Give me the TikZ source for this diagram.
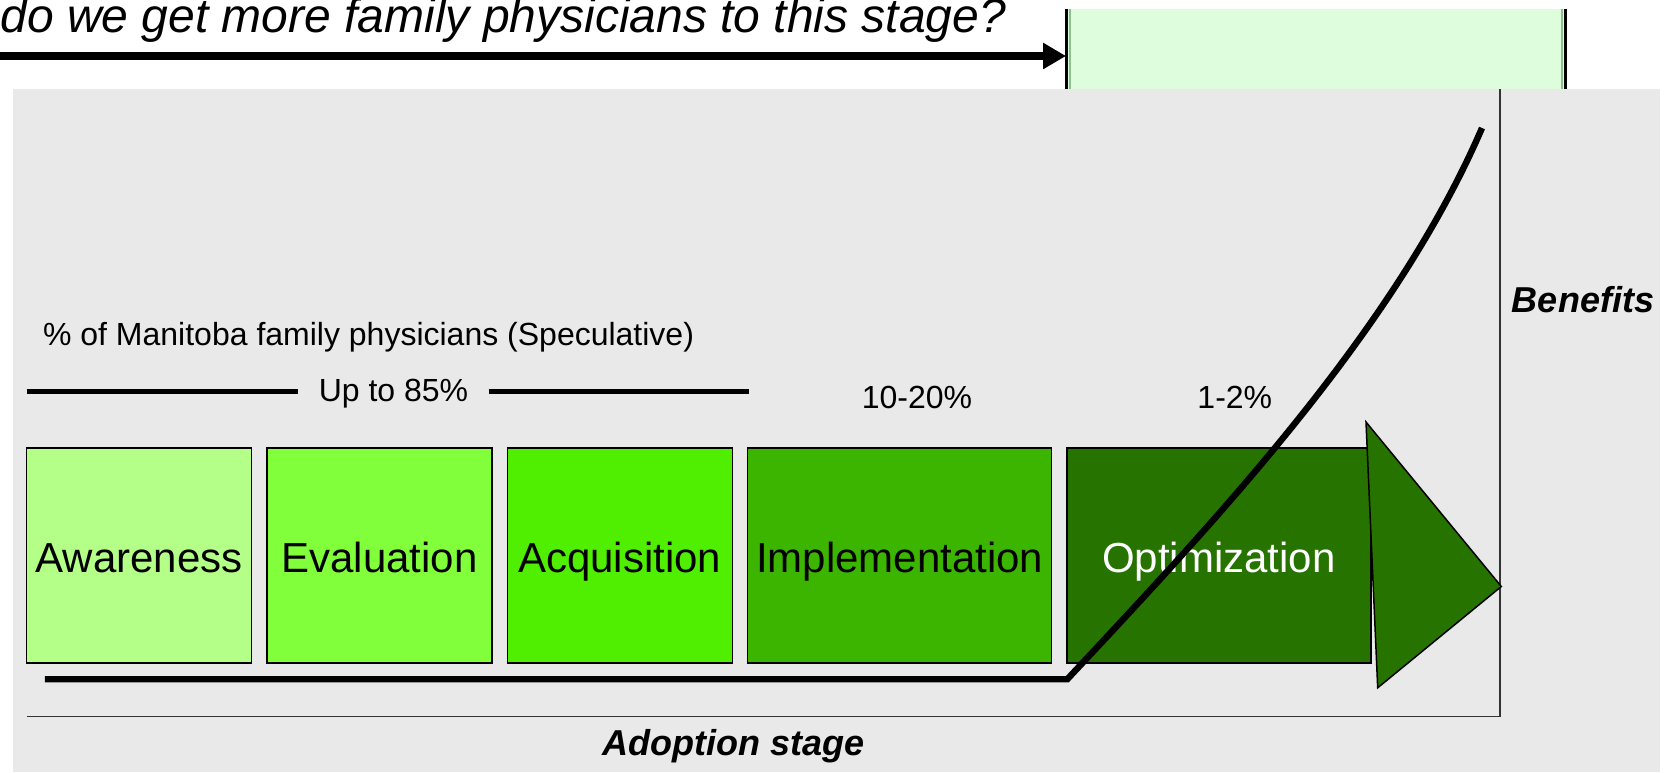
\documentclass[tikz,border=0pt]{standalone}
\usepackage{fontspec}
\setmainfont{Liberation Sans}
\usetikzlibrary{positioning,arrows.meta}

\definecolor{panelgray}{HTML}{E9E9E9}
\definecolor{goalgreen}{HTML}{DDFDDD}
\definecolor{goaledge}{HTML}{8FBF8F}
\definecolor{awareC}{HTML}{B3FF88}
\definecolor{evalC}{HTML}{80FF3A}
\definecolor{acquC}{HTML}{50EE00}
\definecolor{implC}{HTML}{3BB500}
\definecolor{optiC}{HTML}{277300}
\definecolor{axisC}{HTML}{333333}

\begin{document}
\begin{tikzpicture}[x=0.5pt,y=-0.5pt,node distance=6.9pt,
    stagebox/.style={draw=black,line width=0.75pt,inner sep=0pt,minimum height=107.7pt,
      text height=17pt,text depth=0pt,font=\fontsize{21}{25}\selectfont},
    narrow/.style={stagebox,minimum width=112.5pt},
    wide/.style={stagebox,minimum width=152pt},
    pct/.style={font=\fontsize{16}{19}\selectfont},
    axislabel/.style={font=\fontsize{18}{21}\selectfont\bfseries\itshape}]
  \useasboundingbox (0,0) rectangle (1672,772);

  % question and target stage
  \node[fill=goalgreen,inner sep=0pt,minimum width=249.5pt,minimum height=50pt,anchor=north west]
    (goal) at (1066,8.5) {};
  \draw[goaledge,line width=1pt] ([xshift=2pt]goal.north west) -- ([xshift=2pt]goal.south west)
                                 ([xshift=-2pt]goal.north east) -- ([xshift=-2pt]goal.south east);
  \draw[line width=1.5pt] (goal.north west) -- (goal.south west)
                          (goal.north east) -- (goal.south east);
  \node[anchor=base west,inner sep=0pt,font=\fontsize{24}{28}\selectfont\itshape]
    (question) at (0,32) {do we get more family physicians to this stage?};
  \coordinate (qstart) at (0,56);
  \draw[line width=4pt,-{Triangle[length=11.5pt,width=12.5pt]}] (qstart) -- (qstart -| goal.west);

  % panel
  \fill[panelgray] (12.8,88.5) rectangle (1660,772);

  % axes
  \coordinate (origin) at (1500,716.5);
  \coordinate (xend) at (26.7,716.5);
  \coordinate (yend) at (1500,88.5);
  \draw[axisC,line width=0.8pt] (xend) -- (origin) -- (yend);
  \node[axislabel] (benefits) at (1583,299.6) {Benefits};
  \node[axislabel] (adoption) at (733.6,746.4) {Adoption stage};

  % percentages
  \node[pct,anchor=west,inner sep=0pt] (share) at (42.7,337) {\% of Manitoba family physicians (Speculative)};
  \node[pct,inner xsep=10pt,inner ysep=0pt] (upto) at (393.5,393.5) {Up to 85\%};
  \coordinate (upl) at (26.7,391.3);
  \coordinate (upr) at (748.5,391.3);
  \draw[line width=2.5pt] (upl) -- (upl -| upto.west)
                          (upr -| upto.east) -- (upr);
  \node[pct] (tentwenty) at (917,397.7) {10-20\%};
  \node[pct] (onetwo) at (1234.8,397.7) {1-2\%};

  % stages
  \node[narrow,fill=awareC] (aware) at (139.2,555.5) {Awareness};
  \node[narrow,fill=evalC,right=of aware] (eval) {Evaluation};
  \node[narrow,fill=acquC,right=of eval] (acqu) {Acquisition};
  \node[wide,fill=implC,right=of acqu] (impl) {Implementation};
  \node[wide,fill=optiC,text=white,right=of impl] (opti) {Optimization};
  \filldraw[fill=optiC,draw=black,line width=0.75pt] (1366,422) -- (1501.3,586.5) -- (1377.7,687.8) -- cycle;

  % benefits curve
  \coordinate (flat) at (44.8,679.2);
  \coordinate (takeoff) at (1067.3,679.2);
  \coordinate (peak) at (1482,128);
  \draw[line width=3.2pt] (flat) -- (takeoff) .. controls (1217,519) and (1395,330) .. (peak);
\end{tikzpicture}
\end{document}
